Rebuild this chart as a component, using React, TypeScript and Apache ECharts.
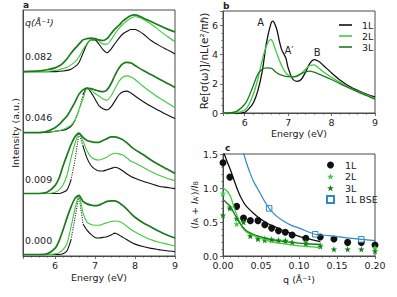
import React, { useEffect, useRef } from "react";
import * as echarts from "echarts";

const FONT = "DejaVu Sans";
const C1 = "#111111";
const C2 = "#3dcc3d";
const C3 = "#1b7a1b";
const CBSE = "#2f88c6";
const FRAME = "#4a4a4a";
const TXT = "#222222";

// ---------- panel a : EELS spectra, 4 momentum transfers, offset vertically ----------
const energyA = [5.2, 5.6, 5.8, 6.0, 6.1, 6.2, 6.3, 6.4, 6.5, 6.6, 6.7, 6.8, 6.9, 7.0, 7.1, 7.2, 7.3, 7.4, 7.5, 7.6, 7.7, 7.8, 7.9, 8.0, 8.2, 8.4, 8.6, 8.8, 9.0];
const qLabelsA = ["0.000", "0.009", "0.046", "0.082"];
const groupOffsets = [0, 1, 2, 3];

const a000_1L = [0, 0, 0, 0, 0, 0.01, 0.06, 0.24, 0.6, 0.97, 0.5, 0.4, 0.33, 0.28, 0.27, 0.28, 0.29, 0.32, 0.35, 0.32, 0.28, 0.24, 0.2, 0.17, 0.13, 0.1, 0.08, 0.06, 0.045];
const a000_2L = [0, 0, 0, 0.01, 0.03, 0.08, 0.18, 0.45, 0.75, 0.97, 0.68, 0.53, 0.49, 0.48, 0.48, 0.5, 0.52, 0.54, 0.55, 0.54, 0.51, 0.46, 0.41, 0.37, 0.3, 0.24, 0.2, 0.17, 0.14];
const a000_3L = [0, 0, 0.01, 0.1, 0.22, 0.4, 0.6, 0.78, 0.92, 0.97, 0.87, 0.83, 0.81, 0.8, 0.81, 0.84, 0.87, 0.88, 0.88, 0.85, 0.8, 0.74, 0.67, 0.61, 0.52, 0.45, 0.38, 0.32, 0.27];

const a009_1L = [0, 0, 0, 0, 0, 0.02, 0.06, 0.22, 0.55, 0.99, 0.78, 0.58, 0.46, 0.4, 0.37, 0.37, 0.39, 0.41, 0.43, 0.41, 0.37, 0.32, 0.28, 0.25, 0.2, 0.16, 0.12, 0.1, 0.08];
const a009_2L = [0, 0, 0, 0.02, 0.06, 0.14, 0.3, 0.58, 0.82, 0.99, 0.86, 0.7, 0.6, 0.56, 0.55, 0.57, 0.6, 0.64, 0.66, 0.65, 0.63, 0.58, 0.53, 0.5, 0.43, 0.36, 0.3, 0.25, 0.21];
const a009_3L = [0, 0, 0.02, 0.13, 0.25, 0.45, 0.63, 0.8, 0.93, 0.99, 0.92, 0.87, 0.85, 0.84, 0.84, 0.87, 0.9, 0.93, 0.93, 0.91, 0.88, 0.83, 0.77, 0.72, 0.64, 0.55, 0.47, 0.4, 0.33];

const a046_1L = [0, 0, 0, 0.02, 0.03, 0.04, 0.06, 0.1, 0.2, 0.36, 0.62, 0.73, 0.66, 0.55, 0.44, 0.39, 0.37, 0.42, 0.52, 0.62, 0.67, 0.68, 0.65, 0.6, 0.51, 0.43, 0.36, 0.29, 0.23];
const a046_2L = [0, 0, 0.01, 0.02, 0.03, 0.05, 0.08, 0.12, 0.2, 0.38, 0.55, 0.72, 0.7, 0.64, 0.6, 0.55, 0.53, 0.6, 0.72, 0.84, 0.91, 0.93, 0.91, 0.87, 0.76, 0.66, 0.57, 0.49, 0.41];
const a046_3L = [0, 0, 0.02, 0.08, 0.13, 0.2, 0.27, 0.38, 0.5, 0.63, 0.7, 0.73, 0.72, 0.7, 0.68, 0.67, 0.7, 0.8, 0.94, 1.06, 1.13, 1.15, 1.14, 1.1, 1.02, 0.95, 0.88, 0.81, 0.74];

const a082_1L = [0, 0, 0, 0, 0.005, 0.01, 0.02, 0.04, 0.08, 0.15, 0.3, 0.45, 0.52, 0.52, 0.45, 0.36, 0.31, 0.37, 0.46, 0.55, 0.62, 0.66, 0.69, 0.69, 0.62, 0.51, 0.43, 0.36, 0.29];
const a082_2L = [0, 0, 0, 0.02, 0.03, 0.05, 0.07, 0.11, 0.16, 0.24, 0.36, 0.46, 0.52, 0.54, 0.5, 0.45, 0.45, 0.52, 0.62, 0.71, 0.78, 0.83, 0.88, 0.9, 0.86, 0.78, 0.68, 0.58, 0.49];
const a082_3L = [0, 0.01, 0.03, 0.06, 0.09, 0.14, 0.21, 0.3, 0.38, 0.45, 0.52, 0.54, 0.55, 0.54, 0.52, 0.51, 0.54, 0.62, 0.7, 0.76, 0.83, 0.88, 0.92, 0.93, 0.88, 0.82, 0.76, 0.7, 0.65];

// dotted (sparse) part of the 1L spectrum around the A peak: [first, last] index in energyA
const dottedRanges: (number[] | null)[] = [[7, 10], [7, 10], [8, 10], null];

// ---------- panel b : optical conductivity ----------
const energyB = [5.5, 5.8, 6.0, 6.1, 6.2, 6.3, 6.4, 6.5, 6.6, 6.65, 6.7, 6.75, 6.8, 6.85, 6.9, 6.95, 7.0, 7.1, 7.2, 7.3, 7.4, 7.5, 7.6, 7.7, 7.8, 8.0, 8.2, 8.4, 8.6, 8.8, 9.0];
const b1L = [0, 0, 0.05, 0.3, 0.7, 1.5, 2.8, 4.8, 6.1, 6.3, 6.05, 5.6, 4.9, 4.35, 4.05, 3.75, 3.1, 2.35, 2.17, 2.3, 2.8, 3.4, 3.66, 3.55, 3.3, 2.75, 2.25, 1.85, 1.55, 1.3, 1.1];
const b2L = [0, 0.02, 0.2, 0.6, 1.3, 2.3, 3.6, 4.6, 5.05, 4.85, 4.4, 4.0, 3.6, 3.25, 2.95, 2.75, 2.6, 2.48, 2.5, 2.7, 3.0, 3.27, 3.3, 3.1, 2.85, 2.45, 2.1, 1.75, 1.5, 1.25, 1.03];
const b3L = [0, 0.1, 0.6, 1.15, 1.9, 2.65, 3.0, 3.1, 3.08, 3.0, 2.85, 2.75, 2.65, 2.6, 2.55, 2.52, 2.5, 2.48, 2.55, 2.7, 2.82, 2.87, 2.8, 2.68, 2.55, 2.3, 2.0, 1.72, 1.45, 1.2, 0.95];
const peakLabels = ["A", "A\u2032", "B"];

// ---------- panel c : (I_A + I_A')/I_B vs q ----------
const qDots = [0, 0.009, 0.018, 0.027, 0.036, 0.046, 0.055, 0.064, 0.073, 0.082, 0.091, 0.109, 0.128, 0.146, 0.164, 0.182, 0.2];
const c1L = [1.37, 1.16, 0.73, 0.56, 0.52, 0.52, 0.46, 0.41, 0.37, 0.35, 0.31, 0.26, 0.28, 0.25, 0.2, 0.2, 0.16];
const c2L = [0.92, 0.72, 0.47, 0.5, 0.3, 0.27, 0.26, 0.25, 0.24, 0.23, 0.2, 0.2, 0.16, null, null, null, 0.12];
const c3L = [0.6, 0.7, 0.55, 0.5, 0.295, 0.25, 0.23, 0.23, 0.22, 0.22, 0.2, 0.18, 0.14, 0.1, 0.1, 0.1, 0.07];

const qFit = [0, 0.005, 0.01, 0.015, 0.02, 0.025, 0.03, 0.04, 0.05, 0.06, 0.07, 0.08, 0.09, 0.1, 0.11, 0.128];
const fit1L = [1.55, 1.4, 1.26, 1.1, 0.95, 0.83, 0.74, 0.63, 0.54, 0.47, 0.42, 0.37, 0.33, 0.29, 0.26, 0.21];
const fit2L = [1.0, 0.96, 0.87, 0.7, 0.55, 0.43, 0.36, 0.3, 0.26, 0.22, 0.2, 0.18, 0.165, 0.15, 0.14, 0.125];
const fit3L = [0.83, 0.78, 0.72, 0.62, 0.52, 0.44, 0.38, 0.32, 0.28, 0.25, 0.23, 0.215, 0.2, 0.19, 0.18, 0.17];

const qBse = [0.026, 0.03, 0.035, 0.04, 0.045, 0.05, 0.055, 0.0607, 0.07, 0.08, 0.09, 0.1, 0.1213, 0.14, 0.16, 0.182, 0.2];
const bseLine = [1.56, 1.4, 1.24, 1.1, 1.0, 0.9, 0.8, 0.7, 0.59, 0.51, 0.45, 0.41, 0.32, 0.3, 0.27, 0.245, 0.225];
const qBseMarks = [0.0607, 0.1213, 0.182];
const bseMarks = [0.7, 0.32, 0.245];

const STAR = "path://M50,0 L61.8,34.5 L97.6,34.5 L68.5,55.9 L79.4,90.5 L50,69.1 L20.6,90.5 L31.5,55.9 L2.4,34.5 L38.2,34.5 Z";

const zip = (xs: number[], ys: (number | null)[], off = 0) =>
  xs.map((x, i) => [x, ys[i] == null ? null : (ys[i] as number) + off]);

function buildOption() {
  const groups = [
    [a000_1L, a000_2L, a000_3L],
    [a009_1L, a009_2L, a009_3L],
    [a046_1L, a046_2L, a046_3L],
    [a082_1L, a082_2L, a082_3L],
  ];
  const series: any[] = [];
  groups.forEach((g, gi) => {
    const off = groupOffsets[gi];
    const rng = dottedRanges[gi];
    const base = { type: "line", xAxisIndex: 0, yAxisIndex: 0, symbol: "none", smooth: 0.25, silent: true };
    if (rng) {
      const solid = energyA.map((e, i) => [e, i > rng[0] && i < rng[1] ? null : g[0][i] + off]);
      const dotted = energyA.map((e, i) => [e, i >= rng[0] && i <= rng[1] ? g[0][i] + off : null]);
      series.push({ ...base, name: "a1L-" + qLabelsA[gi], data: solid, lineStyle: { color: C1, width: 1.1 } });
      series.push({ ...base, name: "a1Ld-" + qLabelsA[gi], data: dotted, smooth: false, lineStyle: { color: C1, width: 1.1, type: [1, 1.4] } });
    } else {
      series.push({ ...base, name: "a1L-" + qLabelsA[gi], data: zip(energyA, g[0], off), lineStyle: { color: C1, width: 1.1 } });
    }
    series.push({ ...base, name: "a2L-" + qLabelsA[gi], data: zip(energyA, g[1], off), lineStyle: { color: C2, width: 1.1 } });
    series.push({ ...base, name: "a3L-" + qLabelsA[gi], data: zip(energyA, g[2], off), lineStyle: { color: C3, width: 1.7 } });
  });

  const bBase = { type: "line", xAxisIndex: 1, yAxisIndex: 1, symbol: "none", smooth: 0.3, silent: true };
  series.push({ ...bBase, name: "1L", data: zip(energyB, b1L), color: C1, lineStyle: { color: C1, width: 1.3 } });
  series.push({ ...bBase, name: "2L", data: zip(energyB, b2L), color: C2, lineStyle: { color: C2, width: 1.3 } });
  series.push({ ...bBase, name: "3L", data: zip(energyB, b3L), color: C3, lineStyle: { color: C3, width: 1.3 } });

  const cLine = { type: "line", xAxisIndex: 2, yAxisIndex: 2, symbol: "none", smooth: 0.3, silent: true };
  series.push({ ...cLine, name: "fit 1L", data: zip(qFit, fit1L), lineStyle: { color: C1, width: 1.3 } });
  series.push({ ...cLine, name: "fit 2L", data: zip(qFit, fit2L), lineStyle: { color: C2, width: 1.3 } });
  series.push({ ...cLine, name: "fit 3L", data: zip(qFit, fit3L), lineStyle: { color: C3, width: 1.3 } });
  series.push({ ...cLine, name: "fit BSE", data: zip(qBse, bseLine), lineStyle: { color: CBSE, width: 1.2 } });

  const cSc = { type: "scatter", xAxisIndex: 2, yAxisIndex: 2, silent: true };
  series.push({ ...cSc, name: "1L (c)", symbol: "circle", symbolSize: 7, data: zip(qDots, c1L).filter((d) => d[1] != null), itemStyle: { color: C1, opacity: 1 } });
  series.push({ ...cSc, name: "2L (c)", symbol: STAR, symbolSize: 6.5, data: zip(qDots, c2L).filter((d) => d[1] != null), itemStyle: { color: C2, opacity: 1 } });
  series.push({ ...cSc, name: "3L (c)", symbol: STAR, symbolSize: 6.5, data: zip(qDots, c3L).filter((d) => d[1] != null), itemStyle: { color: C3, opacity: 1 } });
  series.push({ ...cSc, name: "1L BSE", symbol: "rect", symbolSize: 5.5, data: zip(qBseMarks, bseMarks), itemStyle: { color: "#ffffff", borderColor: CBSE, borderWidth: 1, opacity: 1 } });

  const axisCommon = {
    axisLine: { show: true, onZero: false, lineStyle: { color: FRAME, width: 1 } },
    axisTick: { show: true, length: 3, lineStyle: { color: FRAME, width: 0.8 } },
    minorTick: { show: true, splitNumber: 5, length: 1.8, lineStyle: { color: FRAME, width: 0.6 } },
    splitLine: { show: false },
    minorSplitLine: { show: false },
    axisLabel: { fontFamily: FONT, fontSize: 9.5, color: TXT, margin: 4 },
  };

  const xAxis = [
    { ...axisCommon, gridIndex: 0, type: "value", min: 5.2, max: 9, splitNumber: 4,
      axisLabel: { ...axisCommon.axisLabel, showMinLabel: false, formatter: (v: number) => (Number.isInteger(v) ? String(v) : "") } },
    { ...axisCommon, gridIndex: 1, type: "value", min: 5.5, max: 9, splitNumber: 4,
      axisLabel: { ...axisCommon.axisLabel, showMinLabel: false, formatter: (v: number) => (Number.isInteger(v) ? String(v) : "") } },
    { ...axisCommon, gridIndex: 2, type: "value", min: 0, max: 0.2, interval: 0.05,
      axisLabel: { ...axisCommon.axisLabel, formatter: (v: number) => v.toFixed(2) } },
  ];
  const yAxis = [
    { ...axisCommon, gridIndex: 0, type: "value", min: -0.025, max: 4.01, axisTick: { show: false }, minorTick: { show: false }, axisLabel: { show: false } },
    { ...axisCommon, gridIndex: 1, type: "value", min: 0, max: 7, interval: 2,
      minorTick: { ...axisCommon.minorTick, splitNumber: 4 },
      axisLabel: { ...axisCommon.axisLabel, margin: 5, showMaxLabel: false } },
    { ...axisCommon, gridIndex: 2, type: "value", min: 0, max: 1.5, interval: 0.5,
      axisLabel: { ...axisCommon.axisLabel, margin: 5, formatter: (v: number) => v.toFixed(1) } },
  ];

  const gridStyle = { show: true, borderColor: FRAME, borderWidth: 1, backgroundColor: "transparent", containLabel: false };
  const grid = [
    { ...gridStyle, left: 23, top: 10, width: 152, height: 246 },
    { ...gridStyle, left: 223, top: 11, width: 152, height: 102 },
    { ...gridStyle, left: 223, top: 154, width: 152, height: 102 },
  ];

  const legend = [
    { data: ["1L", "2L", "3L"], orient: "vertical", left: 334, top: 15, itemWidth: 13, itemHeight: 1.6, itemGap: 1,
      icon: "rect", selectedMode: false, textStyle: { fontFamily: FONT, fontSize: 9.5, color: TXT, padding: [0, 0, 0, 5] } },
    { data: ["1L (c)", "2L (c)", "3L (c)", "1L BSE"], orient: "vertical", left: 321, top: 155, itemWidth: 7, itemHeight: 7, itemGap: 1.5,
      selectedMode: false, formatter: (n: string) => n.replace(" (c)", ""),
      textStyle: { fontFamily: FONT, fontSize: 9.5, color: TXT, padding: [0, 0, 0, 6] } },
  ];

  const t = (text: string, x: number, y: number, extra: any = {}, rot = 0) => ({
    type: "text", x, y, rotation: rot, silent: true,
    style: { text, fill: TXT, font: `${extra.fontStyle || "normal"} ${extra.fontWeight || "normal"} ${extra.fontSize || 9.5}px '${FONT}'`,
      align: extra.align || "left", verticalAlign: "middle", textAlign: extra.align || "left", textVerticalAlign: "middle", ...(extra.rich ? { rich: extra.rich } : {}) },
  });

  const groupLabelY = [240.5, 179.5, 117.5, 56];
  const graphic: any[] = [
    t("a", 23, 5, { fontWeight: "bold", fontSize: 9 }),
    t("b", 223, 5.5, { fontWeight: "bold", fontSize: 9 }),
    t("c", 225, 148, { fontWeight: "bold", fontSize: 9 }),
    t("q(Å\u207B\u00B9)", 25, 22.5, { fontStyle: "italic" }),
    ...qLabelsA.map((q, i) => t(q, 25, groupLabelY[i])),
    t("Energy (eV)", 99, 277, { align: "center" }),
    t("Energy (eV)", 299, 133.5, { align: "center" }),
    t("q (Å\u207B\u00B9)", 299, 279, { align: "center" }),
    t("Intensity (a.u.)", 15, 133, { align: "center" }, Math.PI / 2),
    t("Re[σ(ω)]/nL(e\u00B2/πℏ)", 204, 61, { align: "center", fontSize: 10.5 }, Math.PI / 2),
    t("{n|(}{i|I}{s|A}{n| + }{i|I}{s|A\u2032}{n|)/}{i|I}{s|B}", 194, 205, {
      align: "center",
      rich: {
        n: { fontFamily: FONT, fontSize: 9.5, fill: TXT },
        i: { fontFamily: FONT, fontSize: 9.5, fontStyle: "italic", fill: TXT },
        s: { fontFamily: FONT, fontSize: 6.5, fill: TXT, verticalAlign: "bottom", padding: [3, 0, 0, 0] },
      },
    }, Math.PI / 2),
    t(peakLabels[0], 260.7, 22, { align: "center", fontSize: 10 }),
    t(peakLabels[1], 289, 50.7, { align: "center", fontSize: 10 }),
    t(peakLabels[2], 317.3, 52.3, { align: "center", fontSize: 10 }),
  ];

  return { animation: false, backgroundColor: "#ffffff", textStyle: { fontFamily: FONT }, grid, xAxis, yAxis, legend, series, graphic };
}

export default function App() {
  const ref = useRef<HTMLDivElement>(null);
  useEffect(() => {
    if (!ref.current) return;
    const chart = echarts.init(ref.current, null, { renderer: "svg" });
    chart.setOption(buildOption() as any);
    return () => chart.dispose();
  }, []);
  return <div ref={ref} style={{ position: "absolute", left: 0, top: 0, width: 397, height: 297 }} />;
}
